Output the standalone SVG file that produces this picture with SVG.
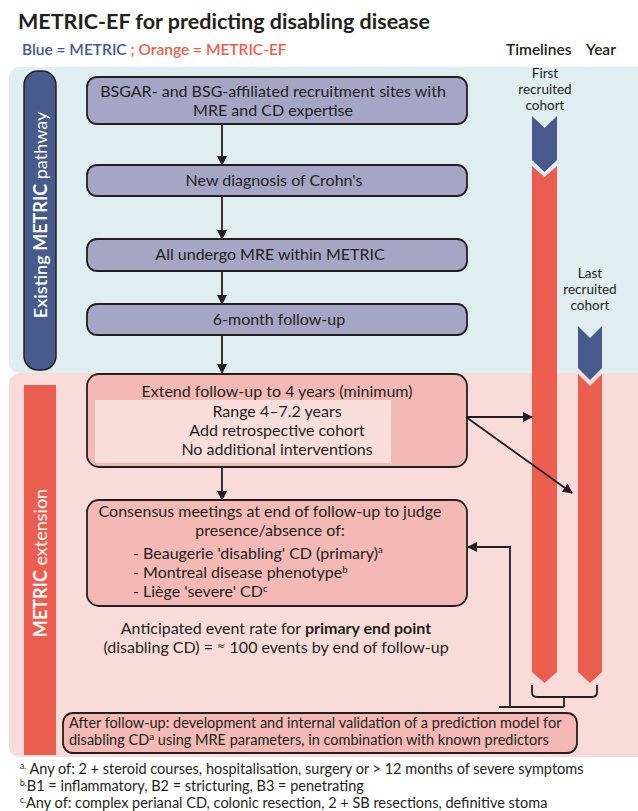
<svg xmlns="http://www.w3.org/2000/svg" width="638" height="811" viewBox="0 0 638 811">
<style>
text{font-family:Lato,'Liberation Sans',sans-serif;fill:#231f20}
.bx{fill:#a5a5c6;stroke:#231f20;stroke-width:1.8}
.px{fill:#f4b9b5;stroke:#231f20;stroke-width:1.8}
.t{font-size:16px;text-anchor:middle}
.b{font-size:16px}
.c{stroke:#231f20;stroke-width:1.8;fill:none}
.tl{font-size:13.5px;text-anchor:middle}
.fn{font-size:14.5px}
.blu{fill:#475a8b}
.red{fill:#eb5e4f}
</style>
<defs>
<marker id="ah" viewBox="0 0 10 10" refX="9" refY="5" markerWidth="10" markerHeight="10" markerUnits="userSpaceOnUse" orient="auto"><path d="M0,0 L10,5 L0,10z" fill="#231f20"/></marker>
</defs>
<rect width="638" height="811" fill="#fff"/>
<text x="18" y="29" font-size="21.5" font-weight="bold">METRIC-EF for predicting disabling disease</text>
<text x="22" y="55" font-size="15.5" font-weight="600"><tspan fill="#475a8b">Blue = METRIC </tspan><tspan fill="#eb5e4f">; Orange = METRIC-EF</tspan></text>
<text x="506" y="55" font-size="15.5" font-weight="600">Timelines</text>
<text x="586" y="55" font-size="15.5" font-weight="600">Year</text>

<rect x="9" y="67" width="640" height="306" rx="10" fill="#e0eef1"/>
<rect x="9" y="373" width="640" height="384" rx="10" fill="#f9dcda"/>

<g id="banner-existing">
<rect x="24" y="71" width="32" height="299" rx="14" class="blu" stroke="#231f20" stroke-width="1.5"/>
<text transform="translate(46.5,215) rotate(-90)" text-anchor="middle" font-size="18" style="fill:#fff"><tspan font-weight="600" style="fill:#fff">Existing</tspan> <tspan font-weight="bold" style="fill:#fff">METRIC</tspan> pathway</text>
</g>
<g id="banner-extension">
<rect x="24" y="385" width="32" height="370" class="red"/>
<text transform="translate(46.5,563) rotate(-90)" text-anchor="middle" font-size="18" style="fill:#fff"><tspan font-weight="bold" style="fill:#fff">METRIC</tspan> extension</text>
</g>

<g id="n1"><rect x="87" y="77" width="380" height="47" rx="10" class="bx"/>
<text class="t" x="273" y="97">BSGAR- and BSG-affiliated recruitment sites with</text>
<text class="t" x="273" y="116">MRE and CD expertise</text></g>
<g id="n2"><rect x="87" y="165" width="380" height="31" rx="10" class="bx"/>
<text class="t" x="274" y="186">New diagnosis of Crohn's</text></g>
<g id="n3"><rect x="87" y="239" width="380" height="32" rx="10" class="bx"/>
<text class="t" x="270" y="260">All undergo MRE within METRIC</text></g>
<g id="n4"><rect x="87" y="304" width="380" height="31" rx="10" class="bx"/>
<text class="t" x="279" y="325">6-month follow-up</text></g>
<g id="n5"><rect x="87" y="374" width="380" height="93" rx="12" class="px"/>
<rect x="95" y="400" width="296" height="63" fill="#f9dedc"/>
<text class="t" x="277" y="397">Extend follow-up to 4 years (minimum)</text>
<text class="t" x="277" y="417">Range 4–7.2 years</text>
<text class="t" x="277" y="436">Add retrospective cohort</text>
<text class="t" x="277" y="455">No additional interventions</text></g>
<g id="n6"><rect x="87" y="500" width="380" height="106" rx="12" class="px"/>
<text class="t" x="270" y="517">Consensus meetings at end of follow-up to judge</text>
<text class="t" x="270" y="536">presence/absence of:</text>
<text x="133" y="559" class="b">- Beaugerie 'disabling' CD (primary)<tspan font-size="9.5" dy="-6">a</tspan></text>
<text x="133" y="578" class="b">- Montreal disease phenotype<tspan font-size="9.5" dy="-5">b</tspan></text>
<text x="133" y="597" class="b">- Liège 'severe' CD<tspan font-size="9.5" dy="-5">c</tspan></text></g>
<g id="n7">
<text class="t" x="276" y="634">Anticipated event rate for <tspan font-weight="bold">primary end point</tspan></text>
<text class="t" x="276" y="653">(disabling CD) = <tspan font-size="10" dy="-4" style="font-family:'DejaVu Sans',sans-serif">≈</tspan><tspan dy="4"> 100 events by end of follow-up</tspan></text></g>
<g id="n8"><rect x="63" y="713" width="514" height="40" rx="10" class="px"/>
<text x="69" y="728" font-size="14.5">After follow-up: development and internal validation of a prediction model for</text>
<text x="69" y="745" font-size="14.5">disabling CD<tspan font-size="10" dy="-5">a</tspan><tspan dy="5"> using MRE parameters, in combination with known predictors</tspan></text></g>

<g id="timelines">
<text class="tl" x="545" y="78">First</text>
<text class="tl" x="545" y="94">recruited</text>
<text class="tl" x="545" y="110">cohort</text>
<polygon class="blu" points="532,116 544.5,128 557,116 557,160 544.5,172 532,160"/>
<polygon class="red" points="532,166 544.5,177 557,166 557,672 544.5,683 532,672"/>
<text class="tl" x="590" y="278">Last</text>
<text class="tl" x="590" y="294">recruited</text>
<text class="tl" x="590" y="310">cohort</text>
<polygon class="blu" points="578,326 590,338 602,326 602,368 590,380 578,368"/>
<polygon class="red" points="578,374 590,386 602,374 602,672 590,683 578,672"/>
</g>

<g id="connectors">
<line class="c" x1="222" y1="124" x2="222" y2="165" marker-end="url(#ah)"/>
<line class="c" x1="222" y1="196" x2="222" y2="239" marker-end="url(#ah)"/>
<line class="c" x1="222" y1="271" x2="222" y2="304" marker-end="url(#ah)"/>
<line class="c" x1="222" y1="335" x2="222" y2="373" marker-end="url(#ah)"/>
<line class="c" x1="222" y1="467" x2="222" y2="500" marker-end="url(#ah)"/>
<line class="c" x1="466" y1="417" x2="532" y2="417" marker-end="url(#ah)"/>
<line class="c" x1="466" y1="417" x2="572" y2="493" marker-end="url(#ah)"/>
<path class="c" d="M532,685 V692 Q532,697 537,697 H592 Q597,697 597,692 V685"/>
<path class="c" d="M564,697 V707 M499,707 H564"/>
<path class="c" d="M510,707 V547 H468" marker-end="url(#ah)"/>
</g>

<g id="footnotes">
<text class="fn" x="20" y="774"><tspan font-size="8.5" dy="-5">a.</tspan><tspan dy="5"> Any of: 2 + steroid courses, hospitalisation, surgery or &gt; 12 months of severe symptoms</tspan></text>
<text class="fn" x="20" y="791"><tspan font-size="8.5" dy="-5">b.</tspan><tspan dy="5">B1 = inflammatory, B2 = stricturing, B3 = penetrating</tspan></text>
<text class="fn" x="20" y="808"><tspan font-size="8.5" dy="-5">c.</tspan><tspan dy="5">Any of: complex perianal CD, colonic resection, 2 + SB resections, definitive stoma</tspan></text>
</g>
</svg>
